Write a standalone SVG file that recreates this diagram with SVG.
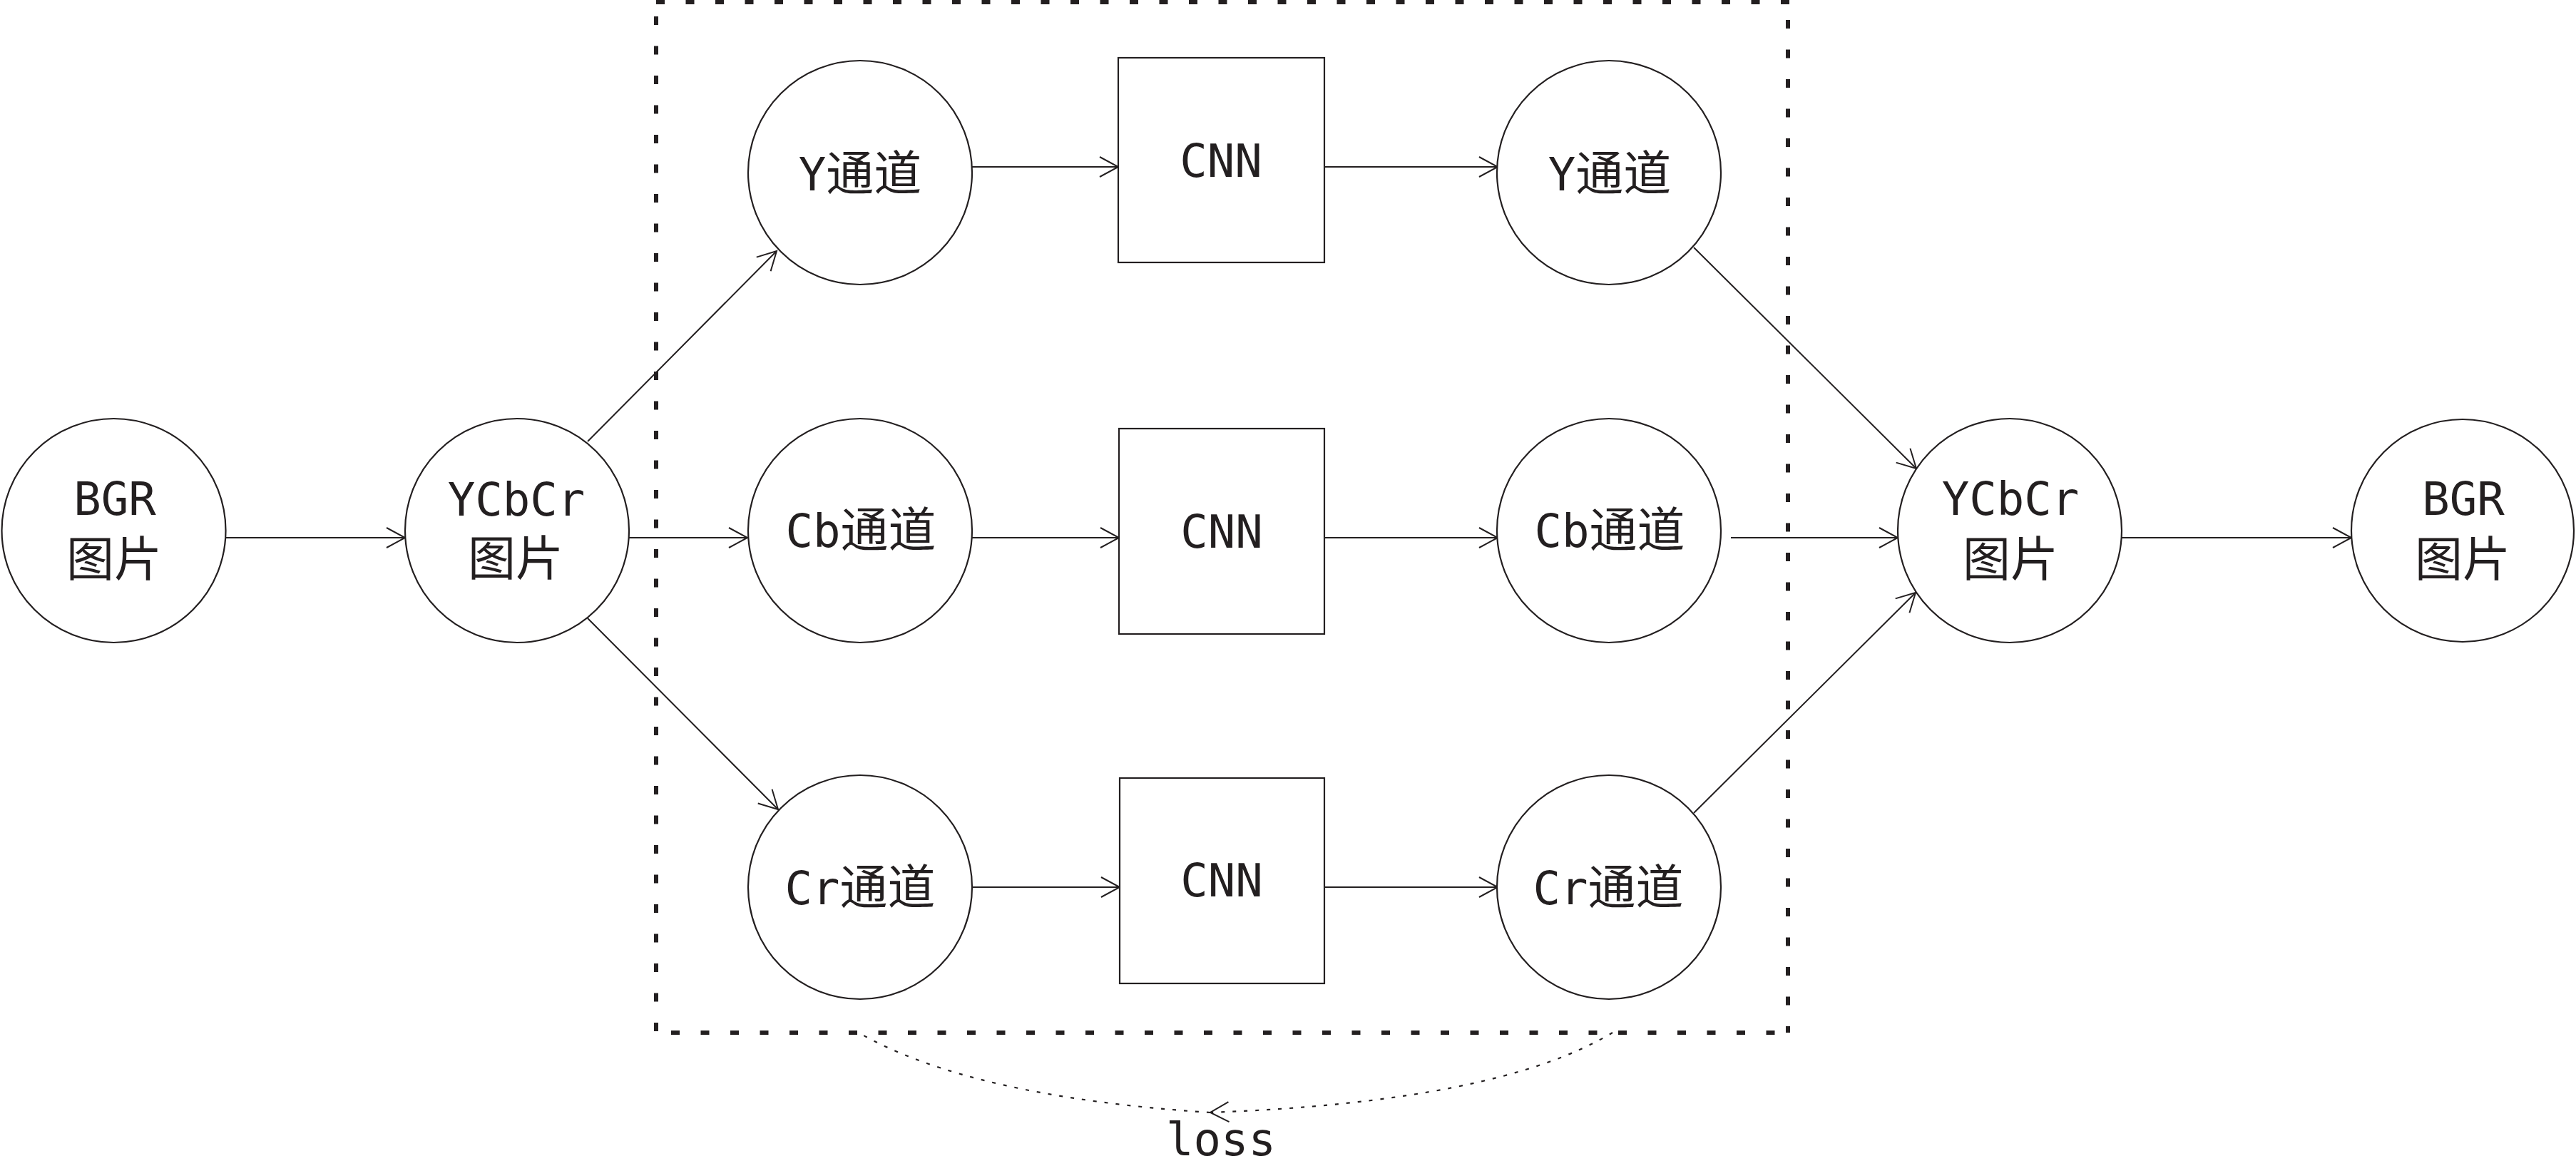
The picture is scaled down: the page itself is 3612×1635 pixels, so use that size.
<svg xmlns="http://www.w3.org/2000/svg" width="3612" height="1635" viewBox="0 0 3612 1635">
<style>
  .node circle, .node rect { fill: #ffffff; stroke: #231f20; stroke-width: 2.2; }
  text { fill: #231f20; text-anchor: middle; font-family: "DejaVu Sans Mono", "Liberation Mono", "Noto Sans CJK SC", monospace; font-size: 64px; }
  .cjk { font-family: "Noto Sans CJK SC", "Noto Sans CJK JP", sans-serif; font-size: 67px; }
  .conn { fill: none; stroke: #231f20; stroke-width: 2; marker-end: url(#arr); }
  .loss { fill: none; stroke: #231f20; stroke-width: 2.2; stroke-dasharray: 5 11; }
  .frame path { fill: none; stroke: #231f20; stroke-width: 6; stroke-dasharray: 12 29.5; }
</style>
<defs>
  <marker id="arr" markerUnits="userSpaceOnUse" markerWidth="34" markerHeight="34" viewBox="-30 -17 34 34" refX="0" refY="0" orient="auto" overflow="visible">
    <path d="M-26,-14 L0,0 L-26,14" fill="none" stroke="#231f20" stroke-width="2" stroke-dasharray="none"/>
  </marker>
</defs>
<rect x="0" y="0" width="3612" height="1635" fill="#ffffff"/>

<g id="frame" class="frame">
  <path d="M920,3 H2509"/>
  <path d="M920,23 V1448"/>
  <path d="M2507,28 V1448"/>
  <path d="M941,1448 H2507"/>
</g>

<g id="connectors">
  <path class="conn" d="M316,754 L568,754"/>
  <path class="conn" d="M824,619 L1089,352"/>
  <path class="conn" d="M882,754 L1048,754"/>
  <path class="conn" d="M824,867 L1091,1135"/>
  <path class="conn" d="M1363,234 L1568,234"/>
  <path class="conn" d="M1857,234 L2100,234"/>
  <path class="conn" d="M1363,754 L1569,754"/>
  <path class="conn" d="M1857,754 L2100,754"/>
  <path class="conn" d="M1362,1244 L1570,1244"/>
  <path class="conn" d="M1857,1244 L2100,1244"/>
  <path class="conn" d="M2375,347 L2687,657"/>
  <path class="conn" d="M2427,754 L2661,754"/>
  <path class="conn" d="M2375,1140 L2686,831"/>
  <path class="conn" d="M2974,754 L3297,754"/>
  <path class="loss" d="M2261,1448 Q2100,1545 1697,1560" marker-end="url(#arr)"/>
  <path class="loss" d="M1697,1560 Q1360,1538 1204,1448"/>
  <text x="1712" y="1620">loss</text>
</g>

<g id="bgr_in" class="node">
  <circle cx="159.5" cy="744" r="157"/>
  <text><tspan x="161" y="722">BGR</tspan><tspan class="cjk" x="160" y="808">图片</tspan></text>
</g>
<g id="ycbcr_in" class="node">
  <circle cx="725" cy="744" r="157"/>
  <text><tspan x="724" y="723">YCbCr</tspan><tspan class="cjk" x="723" y="807">图片</tspan></text>
</g>
<g id="y_in" class="node">
  <circle cx="1206" cy="242" r="157"/>
  <text x="1206" y="267">Y<tspan class="cjk">通道</tspan></text>
</g>
<g id="cb_in" class="node">
  <circle cx="1206" cy="744" r="157"/>
  <text x="1207" y="767">Cb<tspan class="cjk">通道</tspan></text>
</g>
<g id="cr_in" class="node">
  <circle cx="1206" cy="1244" r="157"/>
  <text x="1206" y="1268">Cr<tspan class="cjk">通道</tspan></text>
</g>
<g id="cnn_y" class="node">
  <rect x="1568" y="81" width="289" height="287"/>
  <text x="1712" y="248">CNN</text>
</g>
<g id="cnn_cb" class="node">
  <rect x="1569" y="601" width="288" height="288"/>
  <text x="1713" y="768">CNN</text>
</g>
<g id="cnn_cr" class="node">
  <rect x="1570" y="1091" width="287" height="288"/>
  <text x="1713" y="1257">CNN</text>
</g>
<g id="y_out" class="node">
  <circle cx="2256" cy="242" r="157"/>
  <text x="2257" y="267">Y<tspan class="cjk">通道</tspan></text>
</g>
<g id="cb_out" class="node">
  <circle cx="2256" cy="744" r="157"/>
  <text x="2257" y="767">Cb<tspan class="cjk">通道</tspan></text>
</g>
<g id="cr_out" class="node">
  <circle cx="2256" cy="1244" r="157"/>
  <text x="2255" y="1268">Cr<tspan class="cjk">通道</tspan></text>
</g>
<g id="ycbcr_out" class="node">
  <circle cx="2818" cy="744" r="157"/>
  <text><tspan x="2819" y="722">YCbCr</tspan><tspan class="cjk" x="2819" y="808">图片</tspan></text>
</g>
<g id="bgr_out" class="node">
  <circle cx="3453" cy="744" r="156"/>
  <text><tspan x="3454" y="722">BGR</tspan><tspan class="cjk" x="3453" y="808">图片</tspan></text>
</g>
</svg>
